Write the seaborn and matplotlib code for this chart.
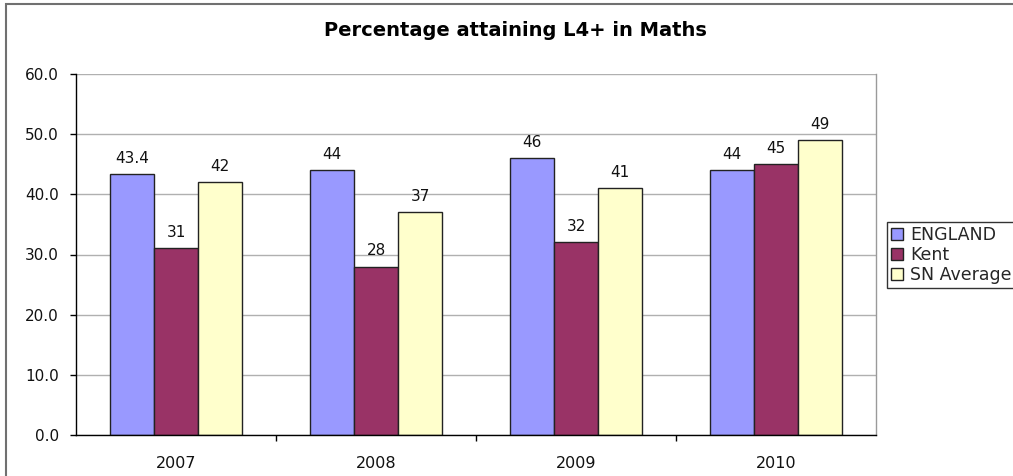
import matplotlib
matplotlib.use("Agg")
import matplotlib.pyplot as plt
from matplotlib.patches import Rectangle
from matplotlib.ticker import FormatStrFormatter, FixedLocator
import pandas as pd
import seaborn as sns

years = ["2007", "2008", "2009", "2010"]
england = [43.4, 44, 46, 44]
kent = [31, 28, 32, 45]
sn_average = [42, 37, 41, 49]
series_names = ["ENGLAND", "Kent", "SN Average"]
colors = ["#9999FF", "#993366", "#FFFFCC"]

rows = []
for name, vals in zip(series_names, [england, kent, sn_average]):
    for y, v in zip(years, vals):
        rows.append({"Year": y, "Series": name, "Value": v})
df = pd.DataFrame(rows)

sns.set_theme(style="white")
plt.rcParams["font.family"] = ["DejaVu Sans"]

fig = plt.figure(figsize=(10.13, 4.76), dpi=100)
ax = fig.add_axes([76 / 1013, 1 - 435 / 476, 800 / 1013, 361 / 476])

sns.barplot(data=df, x="Year", y="Value", hue="Series", palette=colors,
            width=0.66, gap=0, edgecolor="#222222", linewidth=1.0,
            errorbar=None, saturation=1, ax=ax, legend=True)

for container, vals in zip(ax.containers, [england, kent, sn_average]):
    ax.bar_label(container, labels=[f"{v:g}" for v in vals], padding=6,
                 fontsize=11, color="#111111")

ax.set_ylim(0, 60)
ax.set_xlim(-0.5, 3.5)
ax.yaxis.set_major_locator(FixedLocator([0, 10, 20, 30, 40, 50, 60]))
ax.yaxis.set_major_formatter(FormatStrFormatter("%.1f"))
ax.yaxis.grid(True, color="#b0b0b0", linewidth=1)
ax.set_axisbelow(True)
ax.set_xlabel("")
ax.set_ylabel("")

ax.tick_params(axis="y", which="major", left=True, length=4.3, width=1,
               color="#000000", labelsize=11, pad=8, labelcolor="#111111")
ax.tick_params(axis="x", which="major", bottom=False, labelsize=11.5, pad=9,
               labelcolor="#111111")
ax.set_xticks([0.5, 1.5, 2.5], minor=True)
ax.tick_params(axis="x", which="minor", bottom=True, length=4.3, width=1,
               color="#000000")

ax.spines["top"].set_visible(False)
ax.spines["right"].set_color("#9a9a9a")
ax.spines["right"].set_linewidth(1)
for side in ["left", "bottom"]:
    ax.spines[side].set_color("#000000")
    ax.spines[side].set_linewidth(1)

ax.set_title("Percentage attaining L4+ in Maths", fontsize=14,
             fontweight="bold", color="#000000", pad=27, x=0.549)

handles, labels = ax.get_legend_handles_labels()
ax.legend_.remove()
leg = fig.legend(handles, labels, loc="upper left",
                 bbox_to_anchor=(887 / 1013, 1 - 222 / 476),
                 frameon=True, fancybox=False, fontsize=12.5,
                 handlelength=0.65, handleheight=0.65, handletextpad=0.45,
                 labelspacing=0.1, borderpad=0.25, borderaxespad=0)
leg.get_frame().set_edgecolor("#000000")
leg.get_frame().set_linewidth(1)

fig.patches.append(Rectangle((6 / 1013, -0.02), 1.1, 1 - 4 / 476 + 0.02,
                             transform=fig.transFigure, fill=False,
                             edgecolor="#707070", linewidth=1.5))

fig.savefig("out.png", dpi=100)
